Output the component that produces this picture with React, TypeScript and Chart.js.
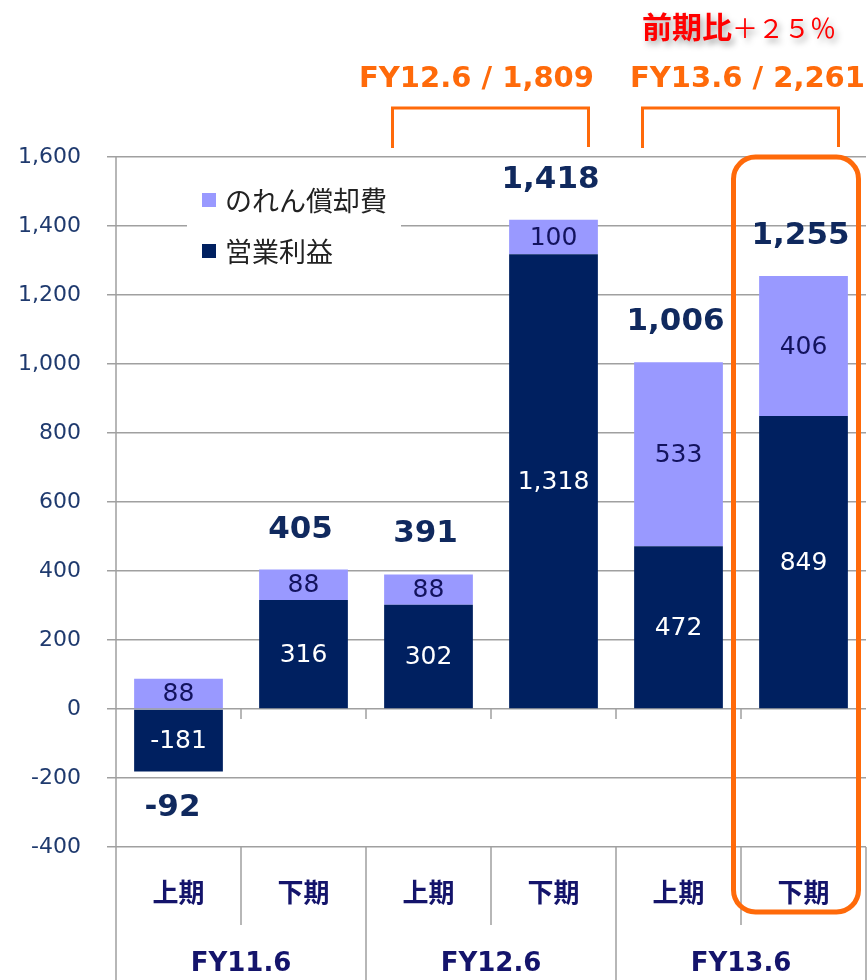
import React, { useEffect, useRef } from 'react';
import { Chart, registerables } from 'chart.js';

Chart.register(...registerables);

// ---- data ----
const periods = ['上期', '下期', '上期', '下期', '上期', '下期'];
const fiscalYears = ['FY11.6', 'FY12.6', 'FY13.6'];
const operatingProfit = [-181, 316, 302, 1318, 472, 849];
const goodwillAmortization = [88, 88, 88, 100, 533, 406];
const totals = [-92, 405, 391, 1418, 1006, 1255];
const seriesNames = ['営業利益', 'のれん償却費'];
const yMin = -400;
const yMax = 1600;
const yStep = 200;
const annualNotes = ['FY12.6 / 1,809', 'FY13.6 / 2,261'];
const annualNoteRanges = [[2, 3], [4, 5]];
const growthLabelStrong = '前期比';
const growthLabelValue = '＋２５％';

const NAVY = '#002060';
const LILAC = '#9999ff';
const ORANGE = '#ff6a0a';
const FONT = "'DejaVu Sans', 'Noto Sans CJK JP', sans-serif";
const JP = "'Noto Sans CJK JP', 'DejaVu Sans', sans-serif";
const NOTE_SHIFT = [-14, 7];

const fmt = (v: number) => v.toLocaleString('en-US');

const overlayPlugin = {
  id: 'overlay',
  afterDatasetsDraw(chart: any) {
    const ctx: CanvasRenderingContext2D = chart.ctx;
    const x = chart.scales.x;
    const y = chart.scales.y;
    ctx.save();

    // value labels inside the bars
    chart.data.datasets.forEach((ds: any, di: number) => {
      const meta = chart.getDatasetMeta(di);
      meta.data.forEach((bar: any, i: number) => {
        const v = ds.data[i];
        const cy = (bar.y + bar.base) / 2;
        ctx.font = `25px ${FONT}`;
        ctx.textAlign = 'center';
        ctx.textBaseline = 'middle';
        ctx.fillStyle = di === 0 ? '#ffffff' : '#13135e';
        ctx.fillText(fmt(v), bar.x, cy + 1);
      });
    });

    // totals
    totals.forEach((t, i) => {
      const cx = x.getPixelForValue(i) - 3;
      ctx.font = `bold 31px ${FONT}`;
      ctx.textAlign = 'center';
      ctx.textBaseline = 'middle';
      ctx.fillStyle = '#10295e';
      if (t < 0) {
        const bottom = y.getPixelForValue(operatingProfit[i]);
        ctx.fillText(fmt(t), cx - 3, bottom + 37);
      } else {
        const top = y.getPixelForValue(Math.max(0, operatingProfit[i]) + goodwillAmortization[i]);
        ctx.fillText(fmt(t), cx, top - 40);
      }
    });
    ctx.restore();
  },
  afterDraw(chart: any) {
    const ctx: CanvasRenderingContext2D = chart.ctx;
    const area = chart.chartArea;
    const x = chart.scales.x;
    const y = chart.scales.y;
    const H = chart.height;
    const half = (x.getPixelForValue(1) - x.getPixelForValue(0)) / 2;
    ctx.save();

    // axis and category table lines
    ctx.strokeStyle = '#a0a0a0';
    ctx.lineWidth = 1.5;
    ctx.beginPath();
    ctx.moveTo(area.left, area.top);
    ctx.lineTo(area.left, H);
    const zeroY = y.getPixelForValue(0);
    for (let i = 0; i <= periods.length; i++) {
      const px = i === periods.length ? area.right : x.getPixelForValue(i) - half;
      if (i > 0 && i < periods.length) {
        ctx.moveTo(px, zeroY);
        ctx.lineTo(px, zeroY + 10);
      }
      if (i === 0) continue;
      ctx.moveTo(px, area.bottom);
      ctx.lineTo(px, i % 2 === 0 ? H : area.bottom + 78);
    }
    ctx.stroke();

    // period labels
    ctx.fillStyle = '#14146b';
    ctx.textAlign = 'center';
    ctx.textBaseline = 'middle';
    ctx.font = `bold 26px ${JP}`;
    periods.forEach((p, i) => {
      ctx.fillText(p, x.getPixelForValue(i), area.bottom + 45);
    });
    ctx.font = `bold 26px ${FONT}`;
    fiscalYears.forEach((fy, g) => {
      const cx = (x.getPixelForValue(g * 2) + x.getPixelForValue(g * 2 + 1)) / 2;
      ctx.fillText(fy, cx, area.bottom + 117);
    });

    // legend
    const lx = area.left + 71;
    const ly = area.top + 13;
    ctx.fillStyle = '#ffffff';
    ctx.fillRect(lx, ly, 214, 105);
    const legendItems = [
      { name: seriesNames[1], color: LILAC },
      { name: seriesNames[0], color: NAVY },
    ];
    legendItems.forEach((it, k) => {
      const cy = ly + 31 + k * 51;
      ctx.fillStyle = it.color;
      ctx.fillRect(lx + 15, cy - 8, 14, 14);
      ctx.fillStyle = '#222222';
      ctx.font = `27px ${JP}`;
      ctx.textAlign = 'left';
      ctx.textBaseline = 'middle';
      ctx.fillText(it.name, lx + 38, cy);
    });

    // annual brackets and notes
    ctx.strokeStyle = ORANGE;
    ctx.lineWidth = 3;
    annualNoteRanges.forEach(([a, b], k) => {
      const x1 = x.getPixelForValue(a) - 36;
      const x2 = x.getPixelForValue(b) + 35;
      const top = area.top - 49;
      ctx.beginPath();
      ctx.moveTo(x1, area.top - 9);
      ctx.lineTo(x1, top);
      ctx.lineTo(x2, top);
      ctx.lineTo(x2, area.top - 10);
      ctx.stroke();
      ctx.fillStyle = ORANGE;
      ctx.font = `bold 29px ${FONT}`;
      ctx.textAlign = 'center';
      ctx.textBaseline = 'middle';
      ctx.fillText(annualNotes[k], (x1 + x2) / 2 + NOTE_SHIFT[k], area.top - 78);
    });

    // highlight box around last bar
    const lastX = x.getPixelForValue(periods.length - 1);
    ctx.lineWidth = 5;
    ctx.beginPath();
    (ctx as any).roundRect(lastX - 70, area.top, 125, 755, 22);
    ctx.stroke();

    // growth label
    const gy = area.top - 130;
    ctx.shadowColor = 'rgba(0,0,0,0.35)';
    ctx.shadowBlur = 6;
    ctx.shadowOffsetX = 3;
    ctx.shadowOffsetY = 4;
    ctx.fillStyle = '#ff0000';
    ctx.textAlign = 'left';
    ctx.textBaseline = 'middle';
    ctx.font = `bold 30px ${JP}`;
    const sx = 642;
    ctx.fillText(growthLabelStrong, sx, gy);
    const w = ctx.measureText(growthLabelStrong).width;
    ctx.font = `26px ${JP}`;
    ctx.fillText(growthLabelValue, sx + w, gy + 1);
    ctx.restore();
  },
};

export default function App() {
  const ref = useRef<HTMLCanvasElement | null>(null);
  useEffect(() => {
    document.body.style.margin = '0';
    const chart = new Chart(ref.current as HTMLCanvasElement, {
      type: 'bar',
      data: {
        labels: periods,
        datasets: [
          {
            label: seriesNames[0],
            data: operatingProfit,
            backgroundColor: NAVY,
            borderWidth: 0,
          },
          {
            label: seriesNames[1],
            data: goodwillAmortization,
            backgroundColor: LILAC,
            borderWidth: 0,
          },
        ],
      },
      options: {
        responsive: false,
        animation: false,
        devicePixelRatio: 1,
        layout: { padding: { left: 0, top: 157, right: 2, bottom: 133 } },
        datasets: { bar: { categoryPercentage: 1, barPercentage: 0.71 } },
        plugins: { legend: { display: false }, tooltip: { enabled: false } },
        scales: {
          x: { stacked: true, display: false },
          y: {
            stacked: true,
            min: yMin,
            max: yMax,
            afterFit: (s: any) => {
              s.width = 116;
            },
            border: { display: false },
            grid: { color: '#a0a0a0', lineWidth: 1.5, tickLength: 9, drawTicks: true },
            ticks: {
              stepSize: yStep,
              padding: 26,
              color: '#1f3a6e',
              font: { family: FONT, size: 22 },
              callback: (v: any) => fmt(Number(v)),
            },
          },
        },
      },
      plugins: [overlayPlugin],
    });
    return () => chart.destroy();
  }, []);
  return (
    <div style={{ width: 868, height: 980, background: '#fff' }}>
      <canvas ref={ref} width={868} height={980} style={{ display: 'block' }} />
    </div>
  );
}
